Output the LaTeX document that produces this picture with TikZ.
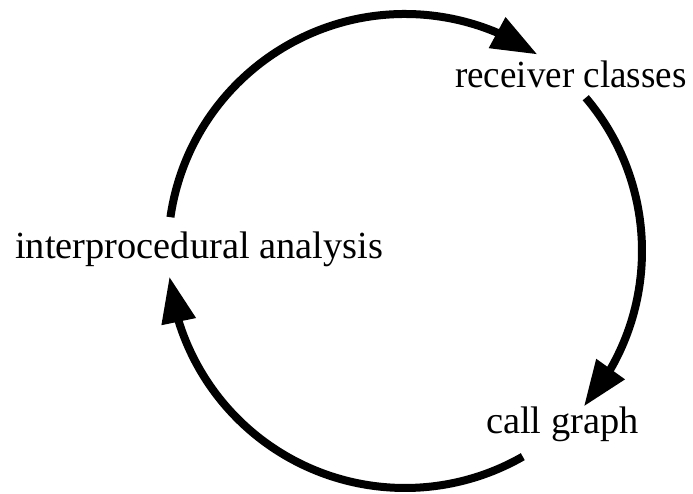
\documentclass[tikz,border=0pt]{standalone}
\usepackage{fontspec}
\setmainfont{Liberation Serif}
\usetikzlibrary{arrows.meta,bending}
\begin{document}
\begin{tikzpicture}[x=1pt,y=1pt,
  phase/.style={anchor=base west,inner sep=0pt,font=\fontsize{38.4}{46}\selectfont},
  cyclearc/.style={line width=8pt,-{Triangle[length=46pt,width=33pt]}}]
\useasboundingbox (0,0) rectangle (693,493);
% centre of the cycle
\coordinate (ctr) at (405,242);
% the three phases
\node[phase] (ip) at (15,234) {interprocedural analysis};
\node[phase] (rc) at (455,405) {\scalebox{0.965}[1]{receiver classes}};
\node[phase] (cg) at (486,60) {call graph};
% ends of the arcs on the circle
\path (ctr) ++(171.8:237) coordinate (s1);
\path (ctr) ++(40.3:237) coordinate (s2);
\path (ctr) ++(-60.2:237) coordinate (s3);
% arcs of the cycle
\draw[cyclearc] (s1) arc[start angle=171.8, end angle=56, radius=237pt];
\draw[cyclearc] (s2) arc[start angle=40.3, end angle=-41, radius=237pt];
\draw[cyclearc] (s3) arc[start angle=-60.2, end angle=-173.8, radius=237pt];
\end{tikzpicture}
\end{document}
